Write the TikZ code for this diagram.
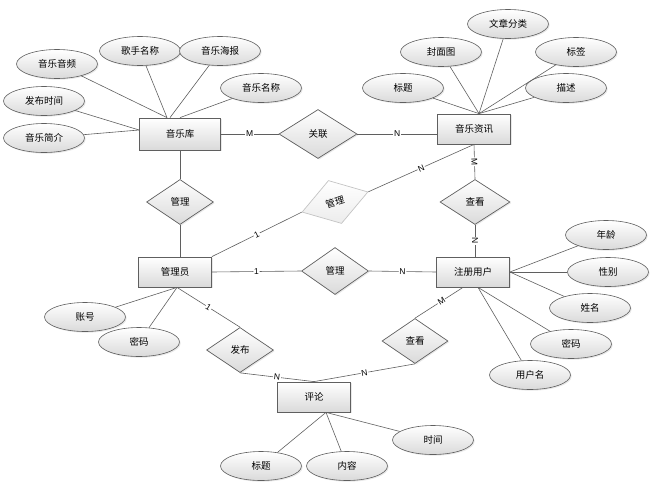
\documentclass[tikz,border=0pt]{standalone}
\usepackage{fontspec}
\setmainfont{Liberation Sans}
\newfontfamily\cjk{Noto Sans CJK SC}
\usepackage{tikz}
\usetikzlibrary{shapes.geometric, shadows, calc}
\definecolor{cLine}  {HTML}{5F5F5F}
\definecolor{cFill}  {HTML}{DADADA}
\definecolor{cFaint} {HTML}{C4C4C4}
\definecolor{cFaintFill}{HTML}{ECECEC}

\begin{document}
\begin{tikzpicture}[x=1pt, y=-1pt,
  every node/.style={font=\cjk\fontsize{9.5}{10}\selectfont},
  soft/.style={drop shadow={opacity=.18, shadow xshift=1.2pt, shadow yshift=-1.2pt}},
  ent/.style={rectangle, draw=cLine, line width=0.8pt, top color=white, bottom color=cFill,
    minimum width=73pt, minimum height=30pt, inner sep=0pt, soft},
  relbase/.style={diamond, draw=cLine, line width=0.7pt, top color=white, bottom color=cFill,
    minimum width=67pt, minimum height=45pt, inner sep=0pt},
  rel/.style={relbase, soft},
  faint/.style={relbase, draw=cFaint, top color=white, bottom color=cFaintFill},
  attr/.style={ellipse, draw=cLine, line width=0.6pt, top color=white, bottom color=cFill,
    minimum width=81pt, minimum height=29pt, inner sep=0pt, soft},
  link/.style={draw=cLine, line width=0.6pt},
  card/.style={font=\fontsize{8.5}{9}\selectfont, fill=white, inner sep=0.8pt, sloped},
]
\useasboundingbox (0,0) rectangle (653,488);

% entities
\node[ent, minimum width=81pt, minimum height=32pt] (lib) at (180,134) {音乐库};
\node[ent] (news)  at (474,129) {音乐资讯};
\node[ent] (admin) at (175,272) {管理员};
\node[ent] (user)  at (473,272) {注册用户};
\node[ent] (cmt)   at (314,397) {评论};

% relations
\node[rel, minimum width=78pt, minimum height=49pt] (rAssoc) at (318,134) {关联};
\node[rel] (rLibAdmin) at (180,202) {管理};
\node[faint, rotate=17, minimum width=69pt] (rAdminNews) at (335,202) {管理};
\node[rel, minimum width=70pt] (rViewNews) at (475,202) {查看};
\node[rel, minimum height=47pt] (rAdminUser) at (335,271) {管理};
\node[rel] (rPost) at (240,350) {发布};
\node[rel, minimum width=66pt] (rViewCmt) at (415,341) {查看};

% attributes
\node[attr] (aAudio)  at (57,64)   {音乐音频};
\node[attr] (aSinger) at (140,51)  {歌手名称};
\node[attr] (aPoster) at (220,51)  {音乐海报};
\node[attr] (aName)   at (261,88)  {音乐名称};
\node[attr] (aDate)   at (44,101)  {发布时间};
\node[attr] (aIntro)  at (44,138)  {音乐简介};

\node[attr] (nKind)   at (508,24)  {文章分类};
\node[attr] (nCover)  at (441,52)  {封面图};
\node[attr] (nTag)    at (576,52)  {标签};
\node[attr] (nTitle)  at (403,88)  {标题};
\node[attr] (nDesc)   at (566,88)  {描述};

\node[attr] (uAge)    at (606,235) {年龄};
\node[attr] (uSex)    at (608,272) {性别};
\node[attr] (uName)   at (590,308) {姓名};
\node[attr] (uPwd)    at (571,344) {密码};
\node[attr] (uLogin)  at (530,375) {用户名};

\node[attr] (mAcct)   at (85,317)  {账号};
\node[attr] (mPwd)    at (139,342) {密码};

\node[attr] (cTitle)  at (261,466) {标题};
\node[attr] (cBody)   at (347,466) {内容};
\node[attr] (cTime)   at (433,440) {时间};

% meeting points on the entities
\coordinate (libTop)   at ($(lib.north)+(-13,0)$);
\coordinate (libSide)  at ($(lib.west)+(0,-4)$);
\coordinate (newsTop)  at ($(news.north)+(5,0)$);
\coordinate (userLow)  at ($(user.south)+(5,0)$);
\coordinate (userView) at ($(user.south)+(-10,0)$);
\coordinate (adminLow) at ($(admin.south)+(2,0)$);
\coordinate (cmtLow)   at ($(cmt.south)+(12,0)$);

% attribute links
\draw[link] (aAudio) -- (libTop);
\draw[link] (aSinger) -- (libTop);
\draw[link] (aPoster) -- ($(libTop)+(3,0)$);
\draw[link] (aName) -- (lib.north);
\draw[link] (aDate) -- (libSide);
\draw[link] (aIntro) -- (libSide);
\foreach \a in {nKind, nCover, nTag, nTitle, nDesc}
  \draw[link] (\a) -- (newsTop);
\foreach \a in {uAge, uSex, uName}
  \draw[link] (\a) -- (user.east);
\foreach \a in {uPwd, uLogin}
  \draw[link] (\a) -- (userLow);
\foreach \a in {mAcct, mPwd}
  \draw[link] (\a) -- (adminLow);
\foreach \a in {cTitle, cBody, cTime}
  \draw[link] (\a) -- (cmtLow);

% relation links
\draw[link] (lib.east) -- node[card] {M} (rAssoc.west);
\draw[link] (rAssoc.east) -- node[card] {N} (rAssoc.east -| news.west);
\draw[link] (lib.south) -- (rLibAdmin.north);
\draw[link] (rLibAdmin.south) -- (rLibAdmin.south |- admin.north);
\draw[link] (admin.north east) -- node[card] {1} (rAdminNews.west);
\draw[link] (rAdminNews.east) -- node[card] {N} (news.south);
\draw[link] (news.south) -- node[card] {M} (rViewNews.north);
\draw[link] (rViewNews.south) -- node[card] {N} (rViewNews.south |- user.north);
\draw[link] (admin.east) -- node[card] {1} (rAdminUser.west);
\draw[link] (rAdminUser.east) -- node[card] {N} (user.west);
\draw[link] (adminLow) -- node[card] {1} (rPost.north);
\draw[link] (rPost.south) -- node[card] {N} (cmt.north);
\draw[link] (cmt.north) -- node[card] {N} (rViewCmt.south);
\draw[link] (rViewCmt.north) -- node[card, pos=0.55] {M} (userView);
\end{tikzpicture}
\end{document}
